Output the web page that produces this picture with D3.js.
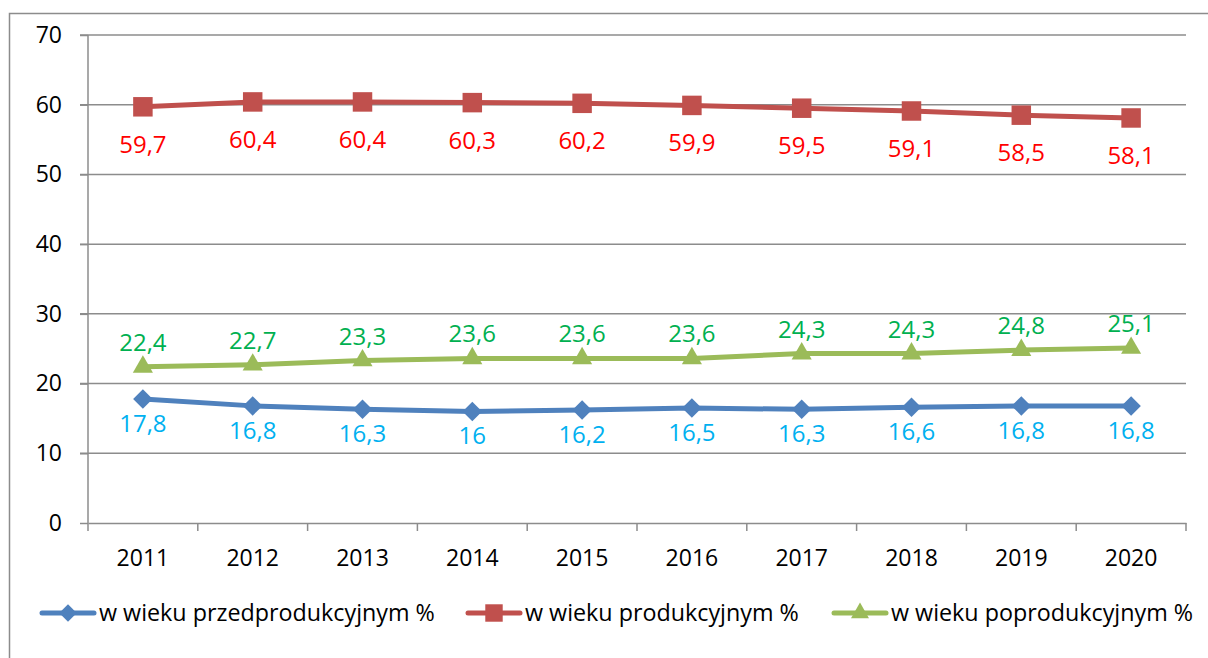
<!DOCTYPE html>
<meta charset="utf-8">
<style>
  body { margin: 0; background: #fff; }
  svg text { font-family: "Open Sans", sans-serif; }
</style>
<script src="https://d3js.org/d3.v7.min.js"></script>
<div id="chart"></div>
<script>

    // chart data
    const years = ["2011", "2012", "2013", "2014", "2015", "2016", "2017", "2018", "2019", "2020"];
    const przedprodukcyjny = [17.8, 16.8, 16.3, 16, 16.2, 16.5, 16.3, 16.6, 16.8, 16.8];
    const produkcyjny = [59.7, 60.4, 60.4, 60.3, 60.2, 59.9, 59.5, 59.1, 58.5, 58.1];
    const poprodukcyjny = [22.4, 22.7, 23.3, 23.6, 23.6, 23.6, 24.3, 24.3, 24.8, 25.1];
    const yTicks = [0, 10, 20, 30, 40, 50, 60, 70];

    const W = 1208, H = 658;
    const margin = {top: 35, right: 22, bottom: 135, left: 88};
    const width = W - margin.left - margin.right;
    const height = H - margin.top - margin.bottom;

    // diamond = square turned by 45 degrees
    const diamond = {
        draw(ctx, size) {
            const r = Math.sqrt(size / 2);
            ctx.moveTo(0, -r); ctx.lineTo(r, 0); ctx.lineTo(0, r); ctx.lineTo(-r, 0); ctx.closePath();
        }
    };

    const series = [
        {name: "w wieku przedprodukcyjnym %", values: przedprodukcyjny, color: "#4F81BD", label: "#00B0F0", symbol: diamond, dy: 33, size: 190, legendX: 40},
        {name: "w wieku produkcyjnym %", values: produkcyjny, color: "#C0504D", label: "#FF0000", symbol: d3.symbolSquare, dy: 46, size: 380, legendX: 466},
        {name: "w wieku poprodukcyjnym %", values: poprodukcyjny, color: "#9BBB59", label: "#00B050", symbol: d3.symbolTriangle, dy: -16, size: 175, legendX: 832}
    ];

    const svg = d3.select("#chart").append("svg")
        .attr("width", W)
        .attr("height", H);

    // outer chart border
    svg.append("rect")
        .attr("x", 9.5).attr("y", 13.5)
        .attr("width", W + 10).attr("height", H + 10)
        .attr("fill", "none").attr("stroke", "#8c8c8c").attr("stroke-width", 1.5);

    const g = svg.append("g").attr("transform", "translate(" + margin.left + "," + margin.top + ")");

    const x = d3.scaleBand().domain(years).range([0, width]);
    const y = d3.scaleLinear().domain([0, 70]).range([height, 0]);

    // gridlines
    g.append("g").selectAll("line")
        .data(yTicks.slice(1))
        .enter().append("line")
        .attr("x1", -8).attr("x2", width)
        .attr("y1", d => y(d)).attr("y2", d => y(d))
        .attr("stroke", "#8c8c8c").attr("stroke-width", 1.5);

    // y axis
    const yAxis = g.append("g")
        .call(d3.axisLeft(y).tickValues(yTicks).tickSize(8).tickPadding(18));
    yAxis.select(".domain").attr("stroke", "#8c8c8c").attr("stroke-width", 1.5).attr("d", "M0," + height + "V0");
    yAxis.selectAll(".tick line").attr("stroke", "#8c8c8c").attr("stroke-width", 1.5);
    yAxis.selectAll(".tick text").attr("font-size", "23px").attr("fill", "#000").style("font-family", "'Open Sans', sans-serif");

    // x axis with ticks between categories
    const xAxis = g.append("g").attr("transform", "translate(0," + height + ")")
        .call(d3.axisBottom(x).tickSize(0).tickPadding(27));
    xAxis.select(".domain").attr("stroke", "#8c8c8c").attr("stroke-width", 1.5);
    xAxis.selectAll(".tick text").attr("font-size", "23px").attr("fill", "#000").style("font-family", "'Open Sans', sans-serif");
    xAxis.selectAll(".sep")
        .data(years.concat(["end"]))
        .enter().append("line")
        .attr("x1", (d, i) => i * x.step()).attr("x2", (d, i) => i * x.step())
        .attr("y1", 0).attr("y2", 8)
        .attr("stroke", "#8c8c8c").attr("stroke-width", 1.5);

    const cx = d => x(d) + x.bandwidth() / 2;

    const line = d3.line()
        .x((d, i) => cx(years[i]))
        .y(d => y(d));

    series.forEach(s => {
        g.append("path")
            .datum(s.values)
            .attr("d", line)
            .attr("fill", "none")
            .attr("stroke", s.color)
            .attr("stroke-width", 5)
            .attr("stroke-linejoin", "round");

        g.selectAll(null)
            .data(s.values)
            .enter().append("path")
            .attr("d", d3.symbol().type(s.symbol).size(s.size))
            .attr("transform", (d, i) => "translate(" + cx(years[i]) + "," + y(d) + ")")
            .attr("fill", s.color);

        g.selectAll(null)
            .data(s.values)
            .enter().append("text")
            .attr("x", (d, i) => cx(years[i]))
            .attr("y", d => y(d) + s.dy)
            .attr("text-anchor", "middle")
            .attr("font-size", "24px")
            .attr("fill", s.label)
            .text(d => String(d).replace(".", ","));
    });

    // legend
    const legend = svg.append("g").attr("transform", "translate(0,613)");
    series.forEach(s => {
        const lg = legend.append("g").attr("transform", "translate(" + s.legendX + ",0)");
        lg.append("line")
            .attr("x1", 2).attr("x2", 54)
            .attr("stroke", s.color).attr("stroke-width", 5).attr("stroke-linecap", "round");
        lg.append("path")
            .attr("d", d3.symbol().type(s.symbol).size(s.size * 0.8))
            .attr("transform", "translate(28,0)")
            .attr("fill", s.color);
        lg.append("text")
            .attr("x", 59).attr("y", 8)
            .attr("font-size", "23.3px")
            .attr("fill", "#000")
            .text(s.name);
    });

</script>
